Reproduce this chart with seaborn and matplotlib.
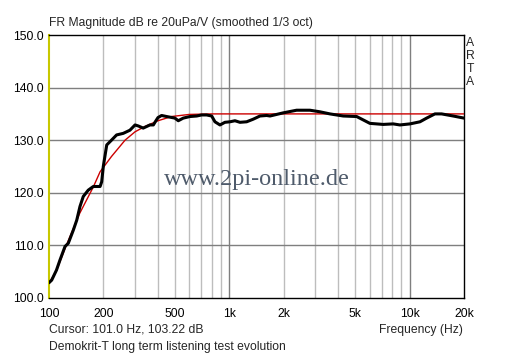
import matplotlib
matplotlib.use("Agg")
import matplotlib.pyplot as plt
import seaborn as sns
import numpy as np

black_freq = [100, 103.5, 110, 115, 122.7, 127.9, 136.4, 142.5, 148.5, 154.9, 165, 176, 192, 196,
              200, 209, 222, 237, 258, 281, 300, 313, 333, 363, 379, 390, 402, 421, 449, 499, 521,
              555, 605, 659, 702, 748, 798, 832, 887, 945, 1008, 1074, 1145, 1247, 1357, 1478,
              1610, 1680, 1990, 2360, 2798, 3178, 3612, 4279, 5080, 6016, 7128, 8100, 8825,
              10030, 11400, 12410, 13800, 15030, 17420, 20000]
black_db = [102.9, 103.4, 105.3, 107.2, 109.8, 110.4, 112.9, 114.8, 117.4, 119.3, 120.5, 121.2, 121.2, 122.1,
            125.0, 129.1, 130.0, 131.0, 131.3, 131.9, 132.9, 132.7, 132.3, 132.9, 132.9, 133.6, 134.3, 134.7, 134.5, 134.2, 133.7,
            134.2, 134.5, 134.6, 134.8, 134.8, 134.6, 133.5, 132.9, 133.4, 133.5, 133.7, 133.4, 133.5, 134.0, 134.6,
            134.7, 134.6, 135.2, 135.7, 135.7, 135.4, 135.0, 134.6, 134.5, 133.2, 133.0, 133.1, 132.9,
            133.1, 133.5, 134.2, 135.0, 135.0, 134.6, 134.2]

# --- target curve (red) ---
red_freq = [100, 110, 123, 148, 176, 192, 222, 264, 300, 340, 402, 478, 600, 800, 20000]
red_db = [102.8, 105.2, 109.5, 116.1, 121.1, 124.0, 126.9, 130.0, 131.6, 132.6, 133.7, 134.5, 134.9, 135.0, 135.0]

x_ticks = [100, 200, 500, 1000, 2000, 5000, 10000, 20000]
x_tick_labels = ["100", "200", "500", "1k", "2k", "5k", "10k", "20k"]
y_ticks = [100, 110, 120, 130, 140, 150]

sns.set_theme(style="white")
plt.rcParams['font.family'] = ['Liberation Sans', 'DejaVu Sans']
FS = 8.7

W, H = 512, 358
fig = plt.figure(figsize=(W / 100, H / 100), dpi=100)
ax = fig.add_axes([49 / W, 1 - 298 / H, (464 - 49) / W, (298 - 35) / H])

ax.set_xscale('log')
ax.set_xlim(100, 20000)
ax.set_ylim(100, 150)

# grid: decades darker, in-between lighter
for f in [200, 300, 400, 500, 600, 700, 800, 900, 2000, 3000, 4000, 5000, 6000, 7000, 8000, 9000]:
    ax.axvline(f, color='#bdbdbd', lw=1, zorder=0)
for f in [1000, 10000]:
    ax.axvline(f, color='#7f7f7f', lw=1, zorder=0)
for v in [110, 120, 130, 140]:
    ax.axhline(v, color='#7f7f7f', lw=1, zorder=0)

ax.text(0.5, 0.45, "www.2pi-online.de", transform=ax.transAxes, ha='center', va='center',
        family='Liberation Serif', fontsize=17.5, color='#4f5b6b', zorder=1)

sns.lineplot(x=red_freq, y=red_db, ax=ax, color='#cc0000', lw=1, zorder=3)
sns.lineplot(x=black_freq, y=black_db, ax=ax, color='black', lw=2.2, zorder=4)

ax.set_xticks(x_ticks)
ax.set_xticklabels(x_tick_labels)
ax.xaxis.set_minor_locator(matplotlib.ticker.NullLocator())
ax.set_yticks(y_ticks)
ax.set_yticklabels([f"{v:.1f}" for v in y_ticks])
ax.tick_params(axis='both', length=0, labelsize=FS, colors='black')
ax.tick_params(axis='x', pad=7)
ax.tick_params(axis='y', pad=4)
ax.set_xlabel("")
ax.set_ylabel("")

for s in ax.spines.values():
    s.set_color('black')
    s.set_linewidth(1)
ax.spines['left'].set_color('#c8c800')
ax.spines['left'].set_linewidth(1.5)

fig.text(49 / W, 1 - 23 / H, "FR Magnitude dB re 20uPa/V (smoothed 1/3 oct)", fontsize=FS, va='center', ha='left')
fig.text(470 / W, 1 - 37 / H, "A\nR\nT\nA", fontsize=FS, va='top', ha='center', linespacing=1.1)
fig.text(49 / W, 1 - 330 / H, "Cursor: 101.0 Hz, 103.22 dB", fontsize=FS, va='center', ha='left')
fig.text(49 / W, 1 - 347 / H, "Demokrit-T long term listening test evolution", fontsize=FS, va='center', ha='left')
fig.text(463 / W, 1 - 330 / H, "Frequency (Hz)", fontsize=FS, va='center', ha='right')

fig.savefig("out.png", dpi=100, facecolor='white')
